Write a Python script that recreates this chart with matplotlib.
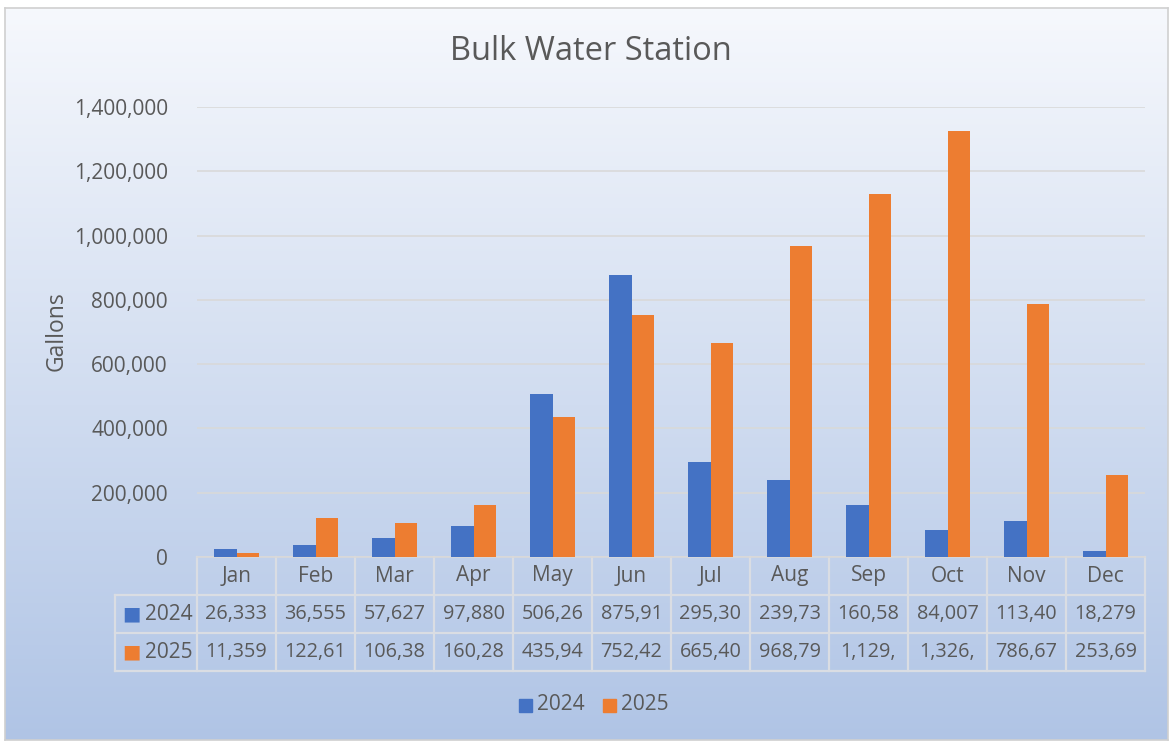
import matplotlib.pyplot as plt
import numpy as np

months = ['Jan', 'Feb', 'Mar', 'Apr', 'May', 'Jun', 'Jul', 'Aug', 'Sep', 'Oct', 'Nov', 'Dec']
years = ['2024', '2025']
gallons_2024 = [26333, 36555, 57627, 97880, 506260, 875910, 295300, 239730, 160580, 84007, 113400, 18279]
gallons_2025 = [11359, 122610, 106380, 160280, 435940, 752420, 665400, 968790, 1129000, 1326000, 786670, 253690]
yticks = [0, 200000, 400000, 600000, 800000, 1000000, 1200000, 1400000]

BLUE = '#4472C4'
ORANGE = '#ED7D31'
TEXT = '#595959'
GRID = '#D9D9D9'
W, H = 1172, 742
FS = 15

plt.rcParams['font.family'] = ['Open Sans', 'DejaVu Sans']

fig = plt.figure(figsize=(W / 100, H / 100), dpi=100)
fig.patch.set_facecolor('white')

# gradient background of the chart area
bg = fig.add_axes([5 / W, 1 - 740 / H, 1163 / W, 732 / H])
top = np.array([0.965, 0.973, 0.99])
bot = np.array([0.69, 0.77, 0.90])
t = np.linspace(0, 1, 256)[:, None]
grad = top[None, :] * (1 - t) + bot[None, :] * t
bg.imshow(grad[:, None, :], aspect='auto', extent=[0, 1, 0, 1])
bg.set_xticks([])
bg.set_yticks([])
for s in bg.spines.values():
    s.set_color('#D0D0D0')
    s.set_linewidth(1.2)

# plot area
x0, x1, y0, y1 = 197, 1145, 107, 557
ax = fig.add_axes([x0 / W, 1 - y1 / H, (x1 - x0) / W, (y1 - y0) / H])
ax.patch.set_alpha(0)
x = np.arange(len(months))
bw = 0.285
ax.bar(x - bw / 2, gallons_2024, bw, color=BLUE, zorder=3)
ax.bar(x + bw / 2, gallons_2025, bw, color=ORANGE, zorder=3)
ax.set_xlim(-0.5, len(months) - 0.5)
ax.set_ylim(0, 1400000)
ax.set_yticks(yticks)
ax.set_yticklabels([f'{v:,}' for v in yticks], color=TEXT, fontsize=FS)
ax.tick_params(axis='y', length=0, pad=21)
ax.set_xticks([])
ax.grid(axis='y', color=GRID, linewidth=1.2, zorder=0)
for s in ['top', 'right', 'left']:
    ax.spines[s].set_visible(False)
ax.spines['bottom'].set_color(GRID)
ax.spines['bottom'].set_linewidth(1.2)
fig.text(57 / W, 1 - 331 / H, 'Gallons', rotation=90, ha='center', va='center',
         color=TEXT, fontsize=16.5)

fig.text(591 / W, 1 - 52 / H, 'Bulk Water Station', ha='center', va='center',
         color=TEXT, fontsize=23.5)

# data table below the axis
row_h = 38 / (y1 - y0)
left_x = -0.5 - (x0 - 115) / ((x1 - x0) / len(months))
tr = ax.get_xaxis_transform()
lkw = dict(color='#DADDE3', linewidth=1.6, transform=tr, clip_on=False)
for i in range(len(months) + 1):
    ax.plot([i - 0.5, i - 0.5], [0, -3 * row_h], **lkw)
ax.plot([left_x, left_x], [-row_h, -3 * row_h], **lkw)
for r in [1, 2, 3]:
    ax.plot([left_x, len(months) - 0.5], [-r * row_h, -r * row_h], **lkw)
for i, m in enumerate(months):
    ax.text(i, -0.5 * row_h, m, ha='center', va='center', color=TEXT,
            fontsize=FS, transform=tr)
for r, (yr, vals, col) in enumerate(zip(years, [gallons_2024, gallons_2025], [BLUE, ORANGE])):
    yc = -(r + 1.5) * row_h
    ax.text(left_x + 0.09, yc, '\u25A0', ha='left', va='center', color=col,
            fontsize=14, transform=tr, family='DejaVu Sans')
    ax.text(-0.56, yc, yr, ha='right', va='center', color=TEXT,
            fontsize=FS, transform=tr)
    for i, v in enumerate(vals):
        ax.text(i, yc, f'{v:,}'[:6], ha='center', va='center', color=TEXT,
                fontsize=14.3, transform=tr)

# legend
ly = 1 - 705 / H
for xs, yr, col in [(519, years[0], BLUE), (603, years[1], ORANGE)]:
    fig.patches.append(plt.Rectangle((xs / W, ly - 6.5 / H), 13 / W, 13 / H,
                                     color=col, transform=fig.transFigure))
    fig.text((xs + 18) / W, ly, yr, ha='left', va='center', color=TEXT, fontsize=FS)

fig.savefig('out.png', dpi=100)
